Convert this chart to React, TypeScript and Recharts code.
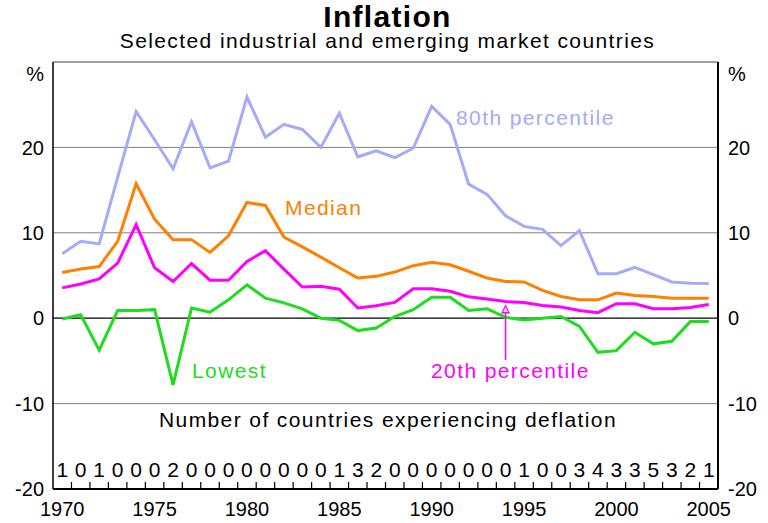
import React from 'react';
import { LineChart, Line, XAxis, YAxis, ReferenceLine, ReferenceDot } from 'recharts';

const years = [
  1970, 1971, 1972, 1973, 1974, 1975, 1976, 1977, 1978, 1979,
  1980, 1981, 1982, 1983, 1984, 1985, 1986, 1987, 1988, 1989,
  1990, 1991, 1992, 1993, 1994, 1995, 1996, 1997, 1998, 1999,
  2000, 2001, 2002, 2003, 2004, 2005,
];

const pct80 = [
  7.55, 9.0, 8.7, 16.5, 24.2, 20.9, 17.5, 23.0, 17.6, 18.4,
  25.9, 21.2, 22.7, 22.1, 20.0, 24.0, 18.9, 19.6, 18.8, 19.9,
  24.8, 22.7, 15.7, 14.5, 12.0, 10.75, 10.4, 8.5, 10.25, 5.2,
  5.2, 5.95, 5.1, 4.25, 4.1, 4.05,
];

const median = [
  5.35, 5.75, 6.05, 9.0, 15.75, 11.6, 9.2, 9.2, 7.7, 9.65,
  13.55, 13.2, 9.5, 8.35, 7.15, 5.9, 4.7, 4.9, 5.4, 6.15,
  6.55, 6.25, 5.5, 4.7, 4.3, 4.25, 3.25, 2.55, 2.15, 2.15,
  2.95, 2.65, 2.55, 2.35, 2.35, 2.35,
];

const pct20 = [
  3.55, 4.0, 4.6, 6.45, 10.95, 5.9, 4.3, 6.4, 4.45, 4.45,
  6.65, 7.9, 5.75, 3.65, 3.75, 3.4, 1.2, 1.45, 1.85, 3.45,
  3.45, 3.15, 2.5, 2.25, 1.95, 1.85, 1.5, 1.3, 0.9, 0.65,
  1.7, 1.7, 1.1, 1.1, 1.25, 1.6,
];

const lowest = [
  -0.1, 0.4, -3.75, 0.9, 0.9, 1.0, -7.8, 1.2, 0.7, 2.15,
  3.9, 2.35, 1.8, 1.1, 0.0, -0.25, -1.45, -1.15, 0.2, 1.0,
  2.45, 2.45, 0.9, 1.1, 0.1, -0.2, 0.0, 0.2, -0.95, -4.0,
  -3.8, -1.65, -3.0, -2.7, -0.4, -0.4,
];

const deflationCounts = [
  1, 0, 1, 0, 0, 0, 2, 0, 0, 0,
  0, 0, 0, 0, 0, 1, 3, 2, 0, 0,
  0, 0, 0, 0, 0, 1, 0, 0, 3, 4,
  3, 3, 5, 3, 2, 1,
];

const yearTicks = [1970, 1975, 1980, 1985, 1990, 1995, 2000, 2005];
const yTicks = [-20, -10, 0, 10, 20, 30];
const boundaryTicks = years.slice(0, -1).map((y) => y + 0.5);
const xDomain = [1969.5, 2005.5];

const data = years.map((year, i) => ({
  year,
  p80: pct80[i],
  median: median[i],
  p20: pct20[i],
  lowest: lowest[i],
}));

const FONT = '"Liberation Sans", Arial, Helvetica, sans-serif';
const C80 = '#A5ABF7';
const CMED = '#FF8000';
const C20 = '#FF00FF';
const CLOW = '#1EDC1E';

const LeftTick = (props: any) => {
  const { x, y, payload } = props;
  const v = payload.value;
  const isPct = v === 30;
  return (
    <text x={x} y={isPct ? y + 12 : y} dy="0.36em" textAnchor="end" fontSize={20} fontFamily={FONT} fill="#000">
      {isPct ? '%' : String(v)}
    </text>
  );
};

const RightTick = (props: any) => {
  const { x, y, payload } = props;
  const v = payload.value;
  const isPct = v === 30;
  return (
    <text x={x} y={isPct ? y + 12 : y} dy="0.36em" textAnchor="start" fontSize={20} fontFamily={FONT} fill="#000">
      {isPct ? '%' : String(v)}
    </text>
  );
};

const XTick = (props: any) => {
  const { x, y, payload } = props;
  const v = payload.value;
  const idx = years.indexOf(v);
  return (
    <g>
      <text x={x} y={y - 12} textAnchor="middle" fontSize={21} fontFamily={FONT} fill="#000">
        {idx >= 0 ? deflationCounts[idx] : ''}
      </text>
      {yearTicks.includes(v) ? (
        <text x={x} y={y + 27} textAnchor="middle" fontSize={20} fontFamily={FONT} fill="#000">
          {v}
        </text>
      ) : null}
    </g>
  );
};

const ArrowHead = (props: any) => {
  const { cx, cy } = props;
  return (
    <polygon
      points={`${cx},${cy} ${cx - 3.5},${cy + 7} ${cx + 3.5},${cy + 7}`}
      fill="#fff"
      stroke={C20}
      strokeWidth={1.3}
    />
  );
};

// Small upward tick at each year boundary, drawn as a reference dot shape
const BoundaryTick = (props: any) => {
  const { cx, cy } = props;
  return <rect x={cx - 0.6} y={cy - 7} width={1.2} height={7} fill="#000" />;
};

const textStyle = { fontFamily: FONT, letterSpacing: 1.4 } as React.CSSProperties;

export default function App() {
  return (
    <div style={{ position: 'absolute', left: 0, top: 0, width: 768, height: 523, background: '#fff' }}>
      <LineChart
        width={768}
        height={523}
        data={data}
        margin={{ top: 62, right: 0, bottom: 0, left: 0 }}
      >
        <XAxis
          dataKey="year"
          type="number"
          domain={xDomain}
          allowDataOverflow
          ticks={years}
          height={34}
          tickSize={0}
          tickMargin={0}
          tick={XTick}
          tickLine={false}
          axisLine={{ stroke: '#000', strokeWidth: 2 }}
          interval={0}
        />
        <YAxis
          yAxisId="left"
          domain={[-20, 30]}
          ticks={yTicks}
          width={53}
          tickSize={0}
          tickMargin={9}
          tick={LeftTick}
          tickLine={false}
          axisLine={{ stroke: '#000', strokeWidth: 1.5 }}
          interval={0}
          allowDataOverflow
        />
        <YAxis
          yAxisId="right"
          orientation="right"
          domain={[-20, 30]}
          ticks={yTicks}
          width={50}
          tickSize={0}
          tickMargin={10}
          tick={RightTick}
          tickLine={false}
          axisLine={{ stroke: '#000', strokeWidth: 2 }}
          interval={0}
          allowDataOverflow
        />
        <ReferenceLine yAxisId="left" y={30} stroke="#444" strokeWidth={1} />
        <ReferenceLine yAxisId="left" y={20} stroke="#808080" strokeWidth={1} />
        <ReferenceLine yAxisId="left" y={10} stroke="#808080" strokeWidth={1} />
        <ReferenceLine yAxisId="left" y={-10} stroke="#808080" strokeWidth={1} />
        <ReferenceLine yAxisId="left" y={0} stroke="#000" strokeWidth={1.2} />
        <Line yAxisId="left" type="linear" dataKey="p80" stroke={C80} strokeWidth={3} dot={false} activeDot={false} isAnimationActive={false} />
        <Line yAxisId="left" type="linear" dataKey="median" stroke={CMED} strokeWidth={3} dot={false} activeDot={false} isAnimationActive={false} />
        <Line yAxisId="left" type="linear" dataKey="p20" stroke={C20} strokeWidth={3} dot={false} activeDot={false} isAnimationActive={false} />
        <Line yAxisId="left" type="linear" dataKey="lowest" stroke={CLOW} strokeWidth={3} dot={false} activeDot={false} isAnimationActive={false} />
        <ReferenceLine
          yAxisId="left"
          segment={[{ x: 1994, y: -4.9 }, { x: 1994, y: 1.0 }]}
          stroke={C20}
          strokeWidth={1.5}
        />
        <ReferenceDot yAxisId="left" x={1994} y={1.46} shape={ArrowHead} />
        {boundaryTicks.map((t) => (
          <ReferenceDot
            key={`bt-${t}`}
            yAxisId="left"
            x={t}
            y={-20}
            ifOverflow="visible"
            shape={BoundaryTick}
          />
        ))}
      </LineChart>
      <svg
        width={768}
        height={523}
        style={{ position: 'absolute', left: 0, top: 0, pointerEvents: 'none' }}
      >
        <text x={387.5} y={27} textAnchor="middle" fontSize={30} fontWeight="bold" style={{ fontFamily: FONT, letterSpacing: 1.3 }} fill="#000">
          Inflation
        </text>
        <text x={387.5} y={48} textAnchor="middle" fontSize={21} style={textStyle} fill="#000">
          Selected industrial and emerging market countries
        </text>
        <text x={456} y={125} fontSize={21} style={textStyle} fill={C80}>80th percentile</text>
        <text x={285} y={215} fontSize={21} style={textStyle} fill={CMED}>Median</text>
        <text x={192} y={378} fontSize={21} style={textStyle} fill={CLOW}>Lowest</text>
        <text x={431} y={378} fontSize={21} style={textStyle} fill={C20}>20th percentile</text>
        <text x={388} y={427} textAnchor="middle" fontSize={21} style={textStyle} fill="#000">
          Number of countries experiencing deflation
        </text>
      </svg>
    </div>
  );
}
